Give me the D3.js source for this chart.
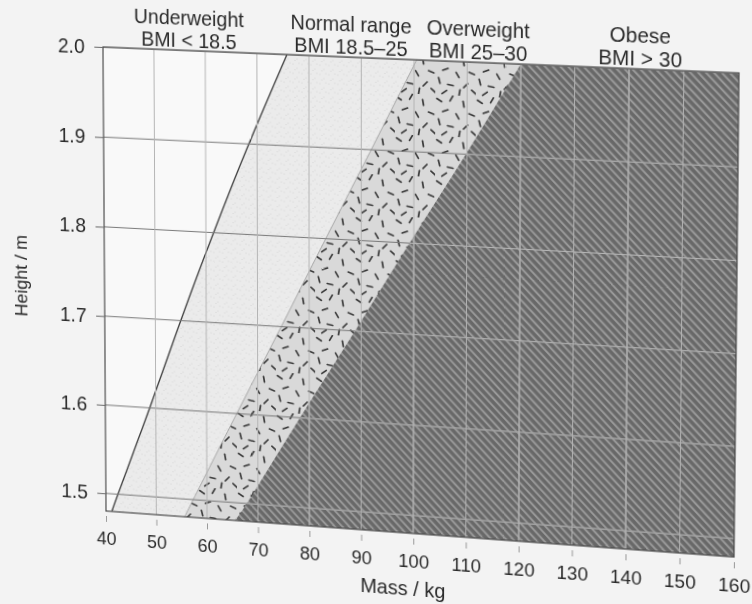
<!DOCTYPE html>
<html>
<head>
<meta charset="utf-8">
<script src="https://cdn.jsdelivr.net/npm/d3@7"></script>
<style>
  html, body { margin: 0; padding: 0; background: #f3f3f3; overflow: hidden; }
  #chart svg { position: absolute; left: 0; top: 0; transform-origin: 0 0; }
  text { font-family: "Liberation Sans", Arial, Helvetica, sans-serif; fill: #2a2a2a; }
</style>
</head>
<body>
<div id="chart"></div>
<script>
// category labels
const categories = ["Underweight", "Normal range", "Overweight", "Obese"];
const ranges = ["BMI < 18.5", "BMI 18.5\u201325", "BMI 25\u201330", "BMI > 30"];

// boundary curves, mass (kg) at each height (m)
const heights = [1.48, 1.5, 1.6, 1.7, 1.8, 1.9, 2.0];
const massBmi185 = [41.2, 42.4, 48.8, 55.0, 61.5, 68.4, 75.8];
const massBmi25 = [55.6, 57.3, 65.9, 74.6, 83.2, 91.9, 100.5];
const massBmi30 = [65.2, 67.8, 78.2, 88.8, 99.2, 109.8, 120.0];

// axis ticks
const massTicks = [40, 50, 60, 70, 80, 90, 100, 110, 120, 130, 140, 150, 160];
const heightTicks = [1.5, 1.6, 1.7, 1.8, 1.9, 2.0];

const width = 752, height = 604;
const plot = { left: 104, top: 47, right: 734, bottom: 511 };

const x = d3.scaleLinear().domain([40, 160]).range([plot.left, plot.right]);
const y = d3.scaleLinear().domain([1.48, 2.0]).range([plot.bottom, plot.top]);

const svg = d3.select("#chart").append("svg")
  .attr("width", width)
  .attr("height", height);

const defs = svg.append("defs");

defs.append("clipPath").attr("id", "plotClip")
  .append("rect")
  .attr("x", plot.left).attr("y", plot.top)
  .attr("width", plot.right - plot.left)
  .attr("height", plot.bottom - plot.top);

// speckle for normal range
const speck = defs.append("pattern").attr("id", "speck")
  .attr("patternUnits", "userSpaceOnUse").attr("width", 9).attr("height", 9);
speck.append("rect").attr("width", 9).attr("height", 9).attr("fill", "#ebebeb");
[[1, 2], [5, 6], [7, 1], [3, 7.5]].forEach(p => {
  speck.append("circle").attr("cx", p[0]).attr("cy", p[1]).attr("r", 0.6).attr("fill", "#d4d4d4");
});

// random-looking dashes for overweight
const dash = defs.append("pattern").attr("id", "dashes")
  .attr("patternUnits", "userSpaceOnUse").attr("width", 40).attr("height", 40);
dash.append("rect").attr("width", 40).attr("height", 40).attr("fill", "#d9d9d9");
[[4, 5, 30], [16, 3, -60], [28, 8, 80], [36, 18, 20], [10, 15, -20], [22, 20, 60],
 [4, 26, 75], [15, 30, 10], [30, 30, -45], [24, 37, -80], [38, 36, 40], [9, 37, -35]]
  .forEach(d => {
    dash.append("line")
      .attr("x1", -2.8).attr("x2", 2.8).attr("y1", 0).attr("y2", 0)
      .attr("transform", `translate(${d[0]},${d[1]}) rotate(${d[2]})`)
      .attr("stroke", "#3a3a3a").attr("stroke-width", 1.7).attr("stroke-linecap", "round");
  });

// diagonal hatch for obese
const hatch = defs.append("pattern").attr("id", "hatch")
  .attr("patternUnits", "userSpaceOnUse").attr("width", 5.5).attr("height", 10)
  .attr("patternTransform", "rotate(-45)");
hatch.append("rect").attr("width", 5.5).attr("height", 10).attr("fill", "#686868");
hatch.append("rect").attr("width", 2).attr("height", 10).attr("fill", "#9a9a9a");

const plotG = svg.append("g").attr("clip-path", "url(#plotClip)");

plotG.append("rect")
  .attr("x", plot.left).attr("y", plot.top)
  .attr("width", plot.right - plot.left)
  .attr("height", plot.bottom - plot.top)
  .attr("fill", "#f9f9f9");

const region = masses => d3.area()
  .curve(d3.curveNatural)
  .y((d, i) => y(heights[i]))
  .x0((d, i) => x(masses[i]))
  .x1(x(160) + 2)(heights);

plotG.append("path").attr("d", region(massBmi185)).attr("fill", "url(#speck)");
plotG.append("path").attr("d", region(massBmi25)).attr("fill", "url(#dashes)");
plotG.append("path").attr("d", region(massBmi30)).attr("fill", "url(#hatch)");

const boundary = masses => d3.line()
  .curve(d3.curveNatural)
  .x((d, i) => x(masses[i]))
  .y((d, i) => y(heights[i]))(heights);

plotG.append("path").attr("d", boundary(massBmi185))
  .attr("fill", "none").attr("stroke", "#3c3c3c").attr("stroke-width", 1.3);
plotG.append("path").attr("d", boundary(massBmi25))
  .attr("fill", "none").attr("stroke", "#9a9a9a").attr("stroke-width", 0.8);

// grid
const drawGrid = (g, hColor, vColor) => {
  g.selectAll(".hg").data(heightTicks).join("line")
    .attr("x1", plot.left).attr("x2", plot.right)
    .attr("y1", d => y(d)).attr("y2", d => y(d))
    .attr("stroke", hColor).attr("stroke-width", 1);
  g.selectAll(".vg").data(massTicks.slice(1, -1)).join("line")
    .attr("x1", d => x(d)).attr("x2", d => x(d))
    .attr("y1", plot.top).attr("y2", plot.bottom)
    .attr("stroke", vColor).attr("stroke-width", 1);
};
drawGrid(plotG.append("g"), "#7a7a7a", "#b4b4b4");

defs.append("clipPath").attr("id", "obeseClip")
  .append("path").attr("d", region(massBmi30));
drawGrid(plotG.append("g").attr("clip-path", "url(#obeseClip)"), "#b8b8b8", "#b0b0b0");

// frame
svg.append("rect")
  .attr("x", plot.left).attr("y", plot.top)
  .attr("width", plot.right - plot.left)
  .attr("height", plot.bottom - plot.top)
  .attr("fill", "none").attr("stroke", "#4a4a4a").attr("stroke-width", 1.2);

// axes
const yAxis = svg.append("g")
  .attr("transform", `translate(${plot.left},0)`)
  .call(d3.axisLeft(y).tickValues(heightTicks).tickFormat(d3.format(".1f")).tickSize(9).tickPadding(10));
yAxis.select(".domain").remove();
yAxis.selectAll("line").attr("stroke", "#6a6a6a");
yAxis.selectAll("text").attr("font-size", 20).attr("fill", "#2a2a2a");

const xAxis = svg.append("g")
  .attr("transform", `translate(0,${plot.bottom})`)
  .call(d3.axisBottom(x).tickValues(massTicks).tickSize(11).tickPadding(10));
xAxis.select(".domain").remove();
xAxis.selectAll("line").attr("y1", 5).attr("stroke", "#9a9a9a");
xAxis.selectAll("text").attr("font-size", 18.5).attr("fill", "#2a2a2a");

svg.append("text")
  .attr("x", x(98)).attr("y", plot.bottom + 62)
  .attr("text-anchor", "middle").attr("font-size", 20)
  .text("Mass / kg");

svg.append("text")
  .attr("transform", `translate(23,${(plot.top + plot.bottom) / 2}) rotate(-90)`)
  .attr("text-anchor", "middle").attr("font-size", 18)
  .text("Height / m");

// region labels above the plot
const labelAt = [56.8, 88, 112, 142];
const labels = svg.append("g").selectAll("g").data(categories).join("g")
  .attr("transform", (d, i) => `translate(${x(labelAt[i])},${plot.top})`);
labels.append("text").attr("y", -25).attr("text-anchor", "middle").attr("font-size", 20)
  .text(d => d);
labels.append("text").attr("y", -3).attr("text-anchor", "middle").attr("font-size", 20)
  .text((d, i) => ranges[i]);

// the reference is a photo taken at an angle: map the plot corners onto it
function homography(src, dst) {
  const A = [], b = [];
  src.forEach((p, i) => {
    const [sx, sy] = p, [u, v] = dst[i];
    A.push([sx, sy, 1, 0, 0, 0, -u * sx, -u * sy]); b.push(u);
    A.push([0, 0, 0, sx, sy, 1, -v * sx, -v * sy]); b.push(v);
  });
  const n = 8;
  for (let c = 0; c < n; c++) {
    let piv = c;
    for (let r = c + 1; r < n; r++) if (Math.abs(A[r][c]) > Math.abs(A[piv][c])) piv = r;
    [A[c], A[piv]] = [A[piv], A[c]]; [b[c], b[piv]] = [b[piv], b[c]];
    for (let r = 0; r < n; r++) {
      if (r === c) continue;
      const f = A[r][c] / A[c][c];
      for (let k = c; k < n; k++) A[r][k] -= f * A[c][k];
      b[r] -= f * b[c];
    }
  }
  return b.map((v, i) => v / A[i][i]);
}

const h = homography(
  [[plot.left, plot.top], [plot.right, plot.top], [plot.left, plot.bottom], [plot.right, plot.bottom]],
  [[103, 47], [739, 73], [106, 511], [734, 557]]
);
svg.style("transform",
  `matrix3d(${h[0]},${h[3]},0,${h[6]},${h[1]},${h[4]},0,${h[7]},0,0,1,0,${h[2]},${h[5]},0,1)`);
</script>
</body>
</html>
